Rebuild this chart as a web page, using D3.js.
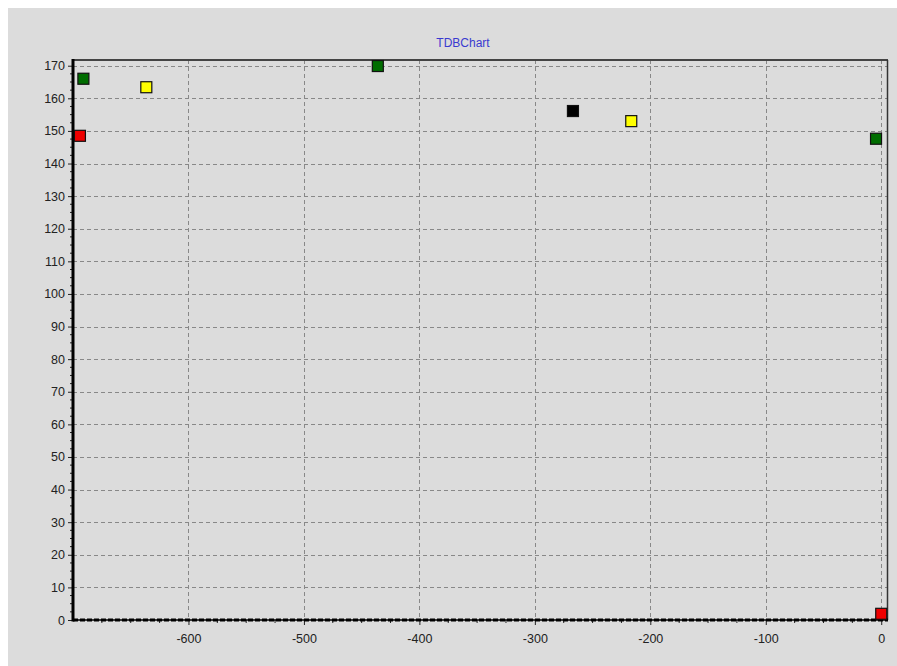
<!DOCTYPE html>
<html>
<head>
<meta charset="utf-8">
<script src="https://cdn.jsdelivr.net/npm/d3@7"></script>
<style>
  html, body { overflow: hidden; }
  body { margin: 8px 0 0 8px; background: #ffffff; }
  svg { display: block; background: #dcdcdc; }
  text { font-family: "Liberation Sans", Arial, sans-serif; }
</style>
</head>
<body>
<script>
// Point series: x, y and fill colour for each square marker
const pointX = [-694, -691, -636.5, -436, -267, -216.5, -4.5, 0];
const pointY = [148.5, 166.0, 163.4, 169.9, 156.1, 153.0, 147.6, 1.9];
const pointColor = ["#ee0000", "#006d00", "#ffff00", "#006d00", "#000000", "#ffff00", "#006d00", "#ee0000"];

const xTicks = [-600, -500, -400, -300, -200, -100, 0];
const yTicks = [0, 10, 20, 30, 40, 50, 60, 70, 80, 90, 100, 110, 120, 130, 140, 150, 160, 170];
const xDomain = [-700, 5];
const yDomain = [0, 171.75];
const title = "TDBChart";

const W = 889, H = 658; // drawn area after the 8px body margin
const plotLeft = 65, plotTop = 52, plotRight = 879, plotBottom = 612;

const svg = d3.select("body").append("svg").attr("width", W).attr("height", H);

const x = d3.scaleLinear().domain(xDomain).range([plotLeft, plotRight]);
const y = d3.scaleLinear().domain(yDomain).range([plotBottom, plotTop]);

// plain hyphen-minus labels
const fmt = d => String(d);

// title
svg.append("text").attr("x", 455).attr("y", 39).attr("text-anchor", "middle")
  .attr("font-size", 12).attr("fill", "#3a3ad0").text(title);

// dashed grid
const grid = svg.append("g").attr("stroke", "#888").attr("stroke-width", 1).attr("stroke-dasharray", "4,3");
grid.selectAll("line.h").data(yTicks.filter(d => d > 0)).join("line").attr("class", "h")
  .attr("x1", plotLeft).attr("x2", plotRight).attr("y1", d => Math.round(y(d)) + 0.5).attr("y2", d => Math.round(y(d)) + 0.5);
grid.selectAll("line.v").data(xTicks).join("line").attr("class", "v")
  .attr("y1", plotTop).attr("y2", plotBottom).attr("x1", d => Math.round(x(d)) + 0.5).attr("x2", d => Math.round(x(d)) + 0.5);

// frame on top and right
svg.append("line").attr("x1", plotLeft).attr("x2", plotRight + 1).attr("y1", plotTop).attr("y2", plotTop)
  .attr("stroke", "#444").attr("stroke-width", 2);
svg.append("line").attr("x1", plotRight + 0.5).attr("x2", plotRight + 0.5).attr("y1", plotTop).attr("y2", plotBottom)
  .attr("stroke", "#333").attr("stroke-width", 1.5);

// left axis
const yAxis = d3.axisLeft(y).tickValues(yTicks).tickSize(5).tickPadding(3).tickFormat(fmt);
const gy = svg.append("g").attr("transform", `translate(${plotLeft},0)`).call(yAxis);
gy.select(".domain").remove();
gy.selectAll("line").attr("stroke", "#222");
gy.selectAll("text").attr("font-size", 12.5).attr("fill", "#222");
const yMinor = d3.range(0, 171, 2.5).filter(v => v % 10 !== 0);
gy.selectAll("line.minor").data(yMinor).join("line").attr("class", "minor")
  .attr("x1", -3).attr("x2", 0).attr("y1", d => y(d)).attr("y2", d => y(d)).attr("stroke", "#222");

// bottom axis
const xAxis = d3.axisBottom(x).tickValues(xTicks).tickSize(5).tickPadding(9).tickFormat(fmt);
const gx = svg.append("g").attr("transform", `translate(0,${plotBottom})`).call(xAxis);
gx.select(".domain").remove();
gx.selectAll("line").attr("stroke", "#222");
gx.selectAll("text").attr("font-size", 12.5).attr("fill", "#222");
const xMinor = d3.range(-675, 5, 25).filter(v => v % 100 !== 0);
gx.selectAll("line.minor").data(xMinor).join("line").attr("class", "minor")
  .attr("y1", 0).attr("y2", 3).attr("x1", d => x(d)).attr("x2", d => x(d)).attr("stroke", "#222");

// axis lines
svg.append("line").attr("x1", plotLeft).attr("x2", plotRight + 1).attr("y1", plotBottom).attr("y2", plotBottom)
  .attr("stroke", "#000").attr("stroke-width", 1.5);
svg.append("line").attr("x1", plotLeft).attr("x2", plotRight + 1).attr("y1", plotBottom).attr("y2", plotBottom)
  .attr("stroke", "#000").attr("stroke-width", 3).attr("stroke-dasharray", "5,2");
svg.append("line").attr("x1", plotLeft).attr("x2", plotLeft).attr("y1", plotTop - 1).attr("y2", plotBottom + 1.5)
  .attr("stroke", "#000").attr("stroke-width", 3);

// square markers
const s = 11;
svg.append("g").selectAll("rect").data(pointX.map((v, i) => ({ x: v, y: pointY[i], c: pointColor[i] })))
  .join("rect")
  .attr("x", d => x(d.x) - s / 2).attr("y", d => y(d.y) - s / 2)
  .attr("width", s).attr("height", s)
  .attr("fill", d => d.c).attr("stroke", "#111").attr("stroke-width", 1.2);
</script>
</body>
</html>
